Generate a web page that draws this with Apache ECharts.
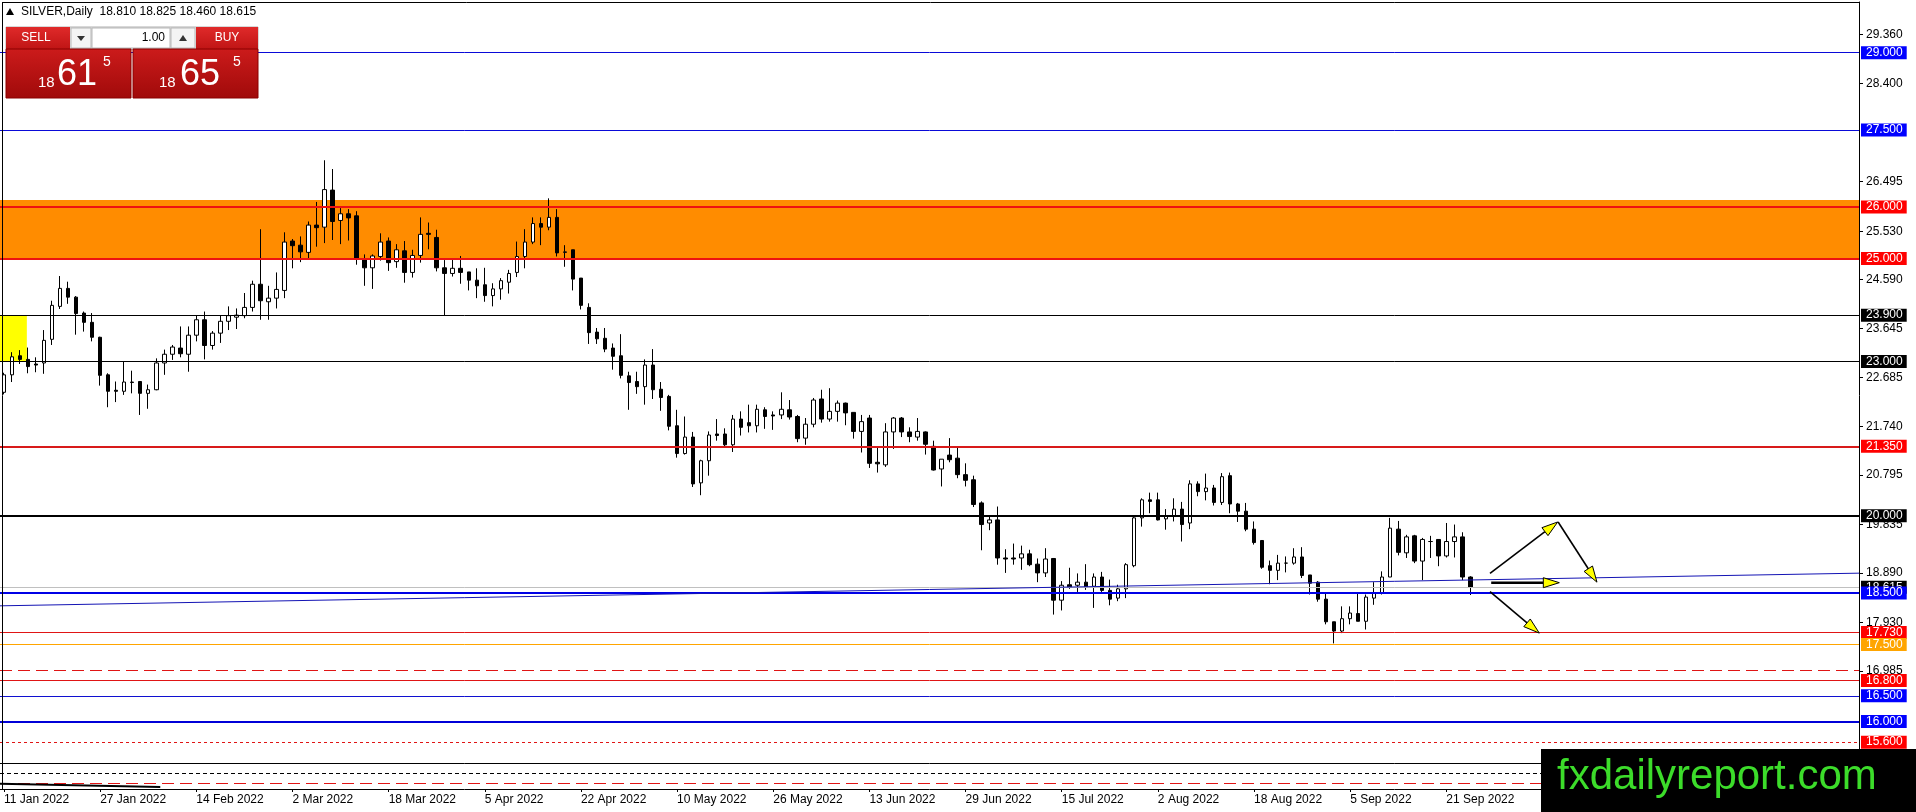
<!DOCTYPE html>
<html>
<head>
<meta charset="utf-8">
<script src="https://cdn.jsdelivr.net/npm/echarts@6/dist/echarts.min.js"></script>
<style>
html,body{margin:0;padding:0;background:#fff;}
#chart{width:1916px;height:812px;}
</style>
</head>
<body>
<div id="chart"></div>
<script>
// ---------------- DATA ----------------
const dateLabels = ['11 Jan 2022','27 Jan 2022','14 Feb 2022','2 Mar 2022','18 Mar 2022','5 Apr 2022','22 Apr 2022','10 May 2022','26 May 2022','13 Jun 2022','29 Jun 2022','15 Jul 2022','2 Aug 2022','18 Aug 2022','5 Sep 2022','21 Sep 2022'];

const opens = [22.40,22.74,23.11,23.04,22.95,22.97,23.43,24.07,24.42,24.25,
23.94,23.76,23.47,22.74,22.44,22.42,22.59,22.61,22.38,22.45,
22.97,23.14,23.26,23.14,23.51,23.81,23.31,23.55,23.78,23.86,
23.89,24.05,24.50,24.16,24.23,24.38,25.34,25.26,25.12,25.65,
25.61,26.33,25.74,25.87,25.83,25.00,24.82,25.04,25.34,24.94,
25.15,24.73,25.06,25.49,25.41,24.82,24.71,24.81,24.74,24.58,
24.49,24.28,24.41,24.54,24.73,25.04,25.32,25.68,25.61,25.80,
25.12,25.17,24.62,24.05,23.57,23.45,23.26,23.11,22.72,22.61,
22.51,22.93,22.46,22.32,21.75,21.21,21.53,20.64,21.07,21.59,
21.59,21.38,21.88,21.81,21.75,22.06,21.96,21.96,22.06,21.93,
21.51,21.78,22.27,21.88,22.03,22.19,22.01,21.64,21.90,21.04,
20.99,21.63,21.90,21.63,21.53,21.63,21.35,20.91,21.18,21.12,
20.80,20.70,20.25,19.86,19.92,19.18,19.18,19.18,19.26,19.06,
18.89,19.17,18.36,18.66,18.65,18.71,18.63,18.81,18.55,18.40,
18.58,19.03,19.96,20.31,20.31,19.94,20.00,20.13,19.86,20.62,
20.47,20.54,20.26,20.78,20.23,20.09,19.74,19.52,19.03,18.94,
19.08,19.08,19.20,18.85,18.71,18.38,17.94,17.76,18.00,18.10,
17.95,18.40,18.49,18.81,19.74,19.28,19.61,19.12,19.50,19.54,
19.22,19.50,19.59,18.81];

const closes = [22.74,23.09,23.04,22.90,22.93,23.41,24.09,24.42,24.25,23.93,
23.76,23.47,22.73,22.42,22.42,22.60,22.60,22.38,22.45,22.97,
23.14,23.28,23.15,23.51,23.81,23.31,23.55,23.78,23.89,23.90,
24.05,24.50,24.18,24.23,24.40,25.32,25.25,25.13,25.65,25.60,
26.34,25.72,25.87,25.79,24.99,24.82,25.05,25.32,24.92,25.17,
24.73,25.06,25.47,25.47,24.82,24.71,24.81,24.73,24.58,24.47,
24.28,24.41,24.57,24.71,25.04,25.32,25.68,25.61,25.80,25.11,
25.13,24.60,24.09,23.56,23.44,23.24,23.10,22.73,22.59,22.51,
22.93,22.45,22.30,21.74,21.21,21.53,20.62,21.07,21.57,21.56,
21.38,21.88,21.72,21.75,22.07,21.93,21.94,22.07,21.92,21.50,
21.78,22.25,21.88,22.03,22.19,22.00,21.64,21.83,21.02,21.01,
21.63,21.90,21.63,21.54,21.64,21.39,20.89,21.10,21.09,20.80,
20.69,20.22,19.83,19.92,19.18,19.16,19.16,19.26,19.05,18.89,
19.16,18.36,18.65,18.62,18.71,18.62,18.81,18.55,18.38,18.58,
19.05,19.96,20.31,20.28,19.92,20.00,20.13,19.83,20.62,20.47,
20.54,20.26,20.76,20.23,20.09,19.74,19.48,19.00,18.94,19.08,
19.08,19.20,18.84,18.69,18.38,17.94,17.76,18.00,18.11,17.95,
18.42,18.50,18.81,19.76,19.29,19.59,19.12,19.54,19.50,19.22,
19.50,19.59,18.81,18.615];

const lows = [22.36,22.60,22.95,22.77,22.79,22.76,23.32,24.02,24.12,23.52,
23.58,23.39,22.53,22.11,22.21,22.35,22.38,21.96,22.08,22.44,
22.74,23.03,23.08,22.80,23.39,23.04,23.23,23.36,23.61,23.63,
23.84,23.97,23.81,23.81,24.03,24.23,24.81,24.93,24.99,25.23,
25.30,25.36,25.28,25.35,24.88,24.47,24.41,24.96,24.76,24.82,
24.53,24.63,24.92,25.18,24.75,23.90,24.65,24.51,24.38,24.23,
24.16,24.07,24.20,24.32,24.64,24.81,25.28,25.26,25.55,25.04,
24.84,24.38,24.01,23.34,23.34,23.18,22.84,22.67,22.06,22.37,
22.16,22.27,22.04,21.66,21.13,21.19,20.56,20.40,20.78,21.46,
21.33,21.24,21.56,21.62,21.62,21.69,21.67,21.88,21.87,21.43,
21.38,21.72,21.81,21.83,21.83,21.76,21.50,21.23,20.93,20.84,
20.95,21.30,21.53,21.43,21.46,21.19,20.88,20.57,21.04,20.73,
20.57,20.17,19.33,19.72,19.05,18.89,19.05,18.95,19.02,18.71,
18.81,18.08,18.16,18.58,18.52,18.56,18.21,18.52,18.26,18.34,
18.40,19.00,19.79,20.05,19.91,19.73,19.89,19.50,19.74,20.38,
20.30,20.20,20.21,20.05,19.88,19.70,19.44,18.97,18.67,18.75,
18.90,19.05,18.79,18.47,18.33,17.89,17.52,17.72,17.89,17.95,
17.79,18.27,18.47,18.81,19.23,19.18,19.08,18.75,19.18,19.02,
19.19,19.19,18.75,18.46];

const highs = [22.78,23.18,23.22,23.27,23.08,23.61,24.18,24.66,24.55,24.27,
23.97,23.94,23.48,22.77,22.61,23.00,22.82,22.62,22.55,23.06,
23.23,23.32,23.68,23.68,23.89,23.97,23.59,23.89,24.07,24.03,
24.33,24.57,25.57,24.47,24.73,25.51,25.38,25.43,25.72,26.10,
26.91,26.74,25.98,25.96,25.92,25.08,25.08,25.49,25.41,25.28,
25.34,25.17,25.80,25.70,25.56,24.97,25.00,25.05,24.74,24.81,
24.82,24.52,24.62,24.78,25.33,25.57,25.80,25.80,26.17,25.96,
25.26,25.17,24.62,24.13,23.65,23.65,23.35,23.53,22.80,22.80,
23.04,23.24,22.60,22.35,22.06,21.93,21.63,21.09,21.64,21.88,
21.70,21.96,22.03,22.16,22.16,22.11,22.03,22.40,22.25,21.96,
21.90,22.29,22.45,22.48,22.24,22.20,22.01,21.96,21.96,21.35,
21.80,21.92,21.92,21.72,21.90,21.64,21.46,21.10,21.51,21.35,
21.02,20.78,20.28,19.99,20.18,19.35,19.46,19.42,19.34,19.17,
19.37,19.18,18.73,18.99,18.88,19.06,18.88,18.91,18.76,18.66,
19.08,19.99,20.34,20.45,20.45,20.13,20.34,20.27,20.69,20.67,
20.82,20.60,20.83,20.84,20.25,20.25,19.89,19.52,19.13,19.24,
19.21,19.37,19.39,18.85,18.73,18.49,17.94,18.24,18.24,18.49,
18.47,18.71,18.92,19.96,19.90,19.63,19.63,19.57,19.61,19.54,
19.86,19.83,19.68,18.825];

const priceTicks = [29.36, 28.4, 26.495, 25.53, 24.59, 23.645, 22.685, 21.74, 20.795, 19.835, 18.89, 17.93, 16.985];
const levelPrices = [29.0, 27.5, 26.0, 25.0, 23.9, 23.0, 21.35, 20.0, 18.5, 17.73, 17.5, 16.8, 16.5, 16.0, 15.6];
const plainLinePrices = [17.0, 15.19, 15.0, 14.8];
const bidPrice = 18.615;
const orangeZone = [25.0, 26.14];
const yellowZone = [23.0, 23.9];
const yellowZoneBars = [-0.5, 2.85];
const trendLine = [[-0.5, 18.25], [231.5, 18.885]];
const bottomSegment = [[-0.5, 14.79], [19.5, 14.73]];
const arrowSegments = [
  [185.45, 18.88, 193.9, 19.88],
  [193.95, 19.88, 198.8, 18.71],
  [185.6, 18.70, 194.1, 18.70],
  [185.45, 18.525, 191.6, 17.72]
];
const headerText = 'SILVER,Daily  18.810 18.825 18.460 18.615';
const volumeText = '1.00';
const sellQuote = ['18', '61', '5'];
const buyQuote = ['18', '65', '5'];
const watermark = 'fxdailyreport.com';

// ---------------- STYLES ----------------
const FONT = 'Liberation Sans, Arial, sans-serif';
const SLOTS = 232;
const LBLUE = '#0000ff', LRED = '#ff0000', LBLACK = '#000000', LORANGE = '#ffa500';
const levelStyle = [
  {c:'#0a0ad8', w:1, lab:LBLUE},
  {c:'#0a0ad8', w:1, lab:LBLUE},
  {c:'#ee1111', w:2, lab:LRED},
  {c:'#ee1111', w:2, lab:LRED},
  {c:'#000000', w:1, lab:LBLACK},
  {c:'#000000', w:1, lab:LBLACK},
  {c:'#d81a1a', w:2, lab:LRED},
  {c:'#000000', w:2, lab:LBLACK},
  {c:'#0000e6', w:2, lab:LBLUE},
  {c:'#e01515', w:1, lab:LRED},
  {c:'#ffa500', w:1, lab:LORANGE},
  {c:'#e01515', w:1, lab:LRED},
  {c:'#1010d0', w:1, lab:LBLUE},
  {c:'#0000d8', w:2, lab:LBLUE},
  {c:'#e01515', w:1, lab:LRED, t:[3,3]}
];
const plainStyle = [
  {c:'#e01515', w:1, t:[12,6]},
  {c:'#000000', w:1, t:'solid'},
  {c:'#000000', w:1, t:[4,3]},
  {c:'#e01515', w:1, t:[12,6]}
];

const categories = Array.from({length: SLOTS}, (_, i) => String(i));
const candleData = opens.map((o, i) => [o, closes[i], lows[i], highs[i]]);

const mlData = [];
mlData.push({yAxis: bidPrice, lineStyle:{color:'#c0c0c0', width:1, type:'solid'},
  label:{show:true, formatter: bidPrice.toFixed(3), backgroundColor:'#000', color:'#fff'}});
levelPrices.forEach((p, i) => {
  const s = levelStyle[i];
  mlData.push({yAxis: p, lineStyle:{color:s.c, width:s.w, type:s.t || 'solid'},
    label:{show:true, formatter: p.toFixed(3), backgroundColor:s.lab, color:'#fff'}});
});
plainLinePrices.forEach((p, i) => {
  const s = plainStyle[i];
  mlData.push({yAxis: p, lineStyle:{color:s.c, width:s.w, type:s.t}, label:{show:false}});
});

const chart = echarts.init(document.getElementById('chart'), null, {renderer:'canvas'});

const redGrad = new echarts.graphic.LinearGradient(0,0,0,1,[{offset:0,color:'#cc1b1b'},{offset:1,color:'#a00a0a'}]);
const btnGrad = new echarts.graphic.LinearGradient(0,0,0,1,[{offset:0,color:'#e02a2a'},{offset:1,color:'#c01515'}]);

const graphics = [
  // window border (left / top)
  {type:'line', shape:{x1:2.5,y1:2,x2:2.5,y2:789}, style:{stroke:'#000', lineWidth:1}, z:90},
  {type:'line', shape:{x1:2,y1:2.5,x2:1859,y2:2.5}, style:{stroke:'#000', lineWidth:1}, z:90},
  // header
  {type:'polygon', shape:{points:[[6,15],[10,8],[14,15]]}, style:{fill:'#000'}, z:100},
  {type:'text', x:21, y:12, style:{text:headerText, fill:'#000', fontSize:12, fontFamily:FONT, align:'left', verticalAlign:'middle'}, z:100},
  // one-click panel
  {type:'rect', shape:{x:6,y:27,width:252,height:22}, style:{fill:'#e6e6e6', stroke:'#b0b0b0'}, z:100},
  {type:'rect', shape:{x:6,y:27,width:64,height:22}, style:{fill:btnGrad}, z:101},
  {type:'text', x:36, y:38, style:{text:'SELL', fill:'#fff', fontSize:12, fontFamily:FONT, align:'center', verticalAlign:'middle'}, z:102},
  {type:'rect', shape:{x:71,y:28,width:20,height:20}, style:{fill:'#f4f4f4', stroke:'#b8b8b8'}, z:101},
  {type:'polygon', shape:{points:[[77,36],[85,36],[81,41]]}, style:{fill:'#333'}, z:102},
  {type:'rect', shape:{x:92,y:28,width:78,height:20}, style:{fill:'#fff', stroke:'#b8b8b8'}, z:101},
  {type:'text', x:165, y:38, style:{text:volumeText, fill:'#000', fontSize:12, fontFamily:FONT, align:'right', verticalAlign:'middle'}, z:102},
  {type:'rect', shape:{x:171,y:28,width:24,height:20}, style:{fill:'#f4f4f4', stroke:'#b8b8b8'}, z:101},
  {type:'polygon', shape:{points:[[179,41],[187,41],[183,35]]}, style:{fill:'#333'}, z:102},
  {type:'rect', shape:{x:196,y:27,width:62,height:22}, style:{fill:btnGrad}, z:101},
  {type:'text', x:227, y:38, style:{text:'BUY', fill:'#fff', fontSize:12, fontFamily:FONT, align:'center', verticalAlign:'middle'}, z:102},
  {type:'rect', shape:{x:6,y:49,width:125,height:49}, style:{fill:redGrad, stroke:'#8a0000'}, z:101},
  {type:'rect', shape:{x:133,y:49,width:125,height:49}, style:{fill:redGrad, stroke:'#8a0000'}, z:101},
  {type:'text', x:38, y:83, style:{text:sellQuote[0], fill:'#fff', fontSize:15, fontFamily:FONT, align:'left', verticalAlign:'middle'}, z:102},
  {type:'text', x:57, y:75, style:{text:sellQuote[1], fill:'#fff', fontSize:36, fontFamily:FONT, align:'left', verticalAlign:'middle'}, z:102},
  {type:'text', x:103, y:62, style:{text:sellQuote[2], fill:'#fff', fontSize:14, fontFamily:FONT, align:'left', verticalAlign:'middle'}, z:102},
  {type:'text', x:159, y:83, style:{text:buyQuote[0], fill:'#fff', fontSize:15, fontFamily:FONT, align:'left', verticalAlign:'middle'}, z:102},
  {type:'text', x:180, y:75, style:{text:buyQuote[1], fill:'#fff', fontSize:36, fontFamily:FONT, align:'left', verticalAlign:'middle'}, z:102},
  {type:'text', x:233, y:62, style:{text:buyQuote[2], fill:'#fff', fontSize:14, fontFamily:FONT, align:'left', verticalAlign:'middle'}, z:102},
  // watermark
  {type:'rect', shape:{x:1541,y:749,width:375,height:63}, style:{fill:'#000'}, z:200},
  {type:'text', x:1557, y:777, style:{text:watermark, fill:'#3cdc2a', fontSize:42, fontFamily:FONT, align:'left', verticalAlign:'middle'}, z:201}
];

const option = {
  animation: false,
  backgroundColor: '#ffffff',
  grid: {left:0, right:57, top:2, bottom:23, show:true, borderWidth:0, backgroundColor:'#fff', outerBoundsMode:'none'},
  xAxis: [
    {
      type:'category', data: categories, boundaryGap:true,
      axisLine:{show:true, onZero:false, lineStyle:{color:'#000', width:1}},
      axisTick:{show:true, interval:11, alignWithLabel:true, length:3, lineStyle:{color:'#000'}},
      axisLabel:{show:true, interval:11, align:'left', margin:5, color:'#000', fontSize:12, fontFamily:FONT,
        formatter: function (v, idx) { return (idx % 12 === 0 && dateLabels[idx / 12]) ? dateLabels[idx / 12] : ''; }},
      splitLine:{show:false}
    },
    {type:'value', min:-0.5, max:SLOTS - 0.5, show:false, splitLine:{show:false}, axisLine:{onZero:false}}
  ],
  yAxis: {
    type:'value', position:'right', min:14.69, max:29.986, scale:true,
    axisLine:{show:true, onZero:false, lineStyle:{color:'#000', width:1}},
    axisTick:{show:true, customValues: priceTicks, length:4, inside:false, lineStyle:{color:'#000'}},
    axisLabel:{show:true, customValues: priceTicks, margin:7, color:'#000', fontSize:12, fontFamily:FONT,
      formatter: v => Number(v).toFixed(3)},
    splitLine:{show:false}
  },
  graphic: graphics,
  series: [
    {
      name:'zones', type:'line', xAxisIndex:1, yAxisIndex:0, data:[], z:1, silent:true,
      markArea:{silent:true, data:[
        [{coord:[-0.5, orangeZone[0]], itemStyle:{color:'#ff8c00', opacity:1}}, {coord:[SLOTS - 0.5, orangeZone[1]]}],
        [{coord:[yellowZoneBars[0], yellowZone[0]], itemStyle:{color:'#ffff00', opacity:1}}, {coord:[yellowZoneBars[1], yellowZone[1]]}]
      ]}
    },
    {
      name:'SILVER', type:'candlestick', xAxisIndex:0, yAxisIndex:0, data: candleData, barWidth:4, z:3, silent:true,
      itemStyle:{color:'#ffffff', color0:'#000000', borderColor:'#000000', borderColor0:'#000000', borderWidth:1}
    },
    {
      name:'levels', type:'line', xAxisIndex:1, yAxisIndex:0, data:[], z:4, silent:true,
      markLine:{silent:true, symbol:['none','none'], animation:false,
        label:{position:'end', distance:2, fontSize:12, fontFamily:FONT, padding:[1,4,0,5], lineHeight:12},
        data: mlData}
    },
    {
      name:'trend', type:'line', xAxisIndex:1, yAxisIndex:0, data: trendLine, z:5, silent:true,
      symbol:'none', lineStyle:{color:'#1414b4', width:1}
    },
    {
      name:'bottomSeg', type:'line', xAxisIndex:1, yAxisIndex:0, data: bottomSegment, z:5, silent:true,
      symbol:'none', lineStyle:{color:'#000', width:2}
    },
    {
      name:'arrows', type:'custom', xAxisIndex:1, yAxisIndex:0, data: arrowSegments, z:6, silent:true, clip:false,
      encode:{x:[0,2], y:[1,3]},
      renderItem: function (params, api) {
        const a = api.coord([api.value(0), api.value(1)]);
        const b = api.coord([api.value(2), api.value(3)]);
        const dx = b[0] - a[0], dy = b[1] - a[1];
        const len = Math.sqrt(dx*dx + dy*dy) || 1;
        const ux = dx/len, uy = dy/len, px = -uy, py = ux;
        const hl = 16, hw = 5;
        const base = [b[0] - ux*hl, b[1] - uy*hl];
        const lw = params.dataIndex === 2 ? 2.5 : 1.6;
        return {type:'group', children:[
          {type:'line', shape:{x1:a[0], y1:a[1], x2:base[0], y2:base[1]}, style:{stroke:'#000', lineWidth:lw}},
          {type:'polygon', shape:{points:[[b[0],b[1]],[base[0]+px*hw, base[1]+py*hw],[base[0]-px*hw, base[1]-py*hw]]},
            style:{fill:'#ffff00', stroke:'#000', lineWidth:1}}
        ]};
      }
    }
  ]
};
chart.setOption(option);
</script>
</body>
</html>
